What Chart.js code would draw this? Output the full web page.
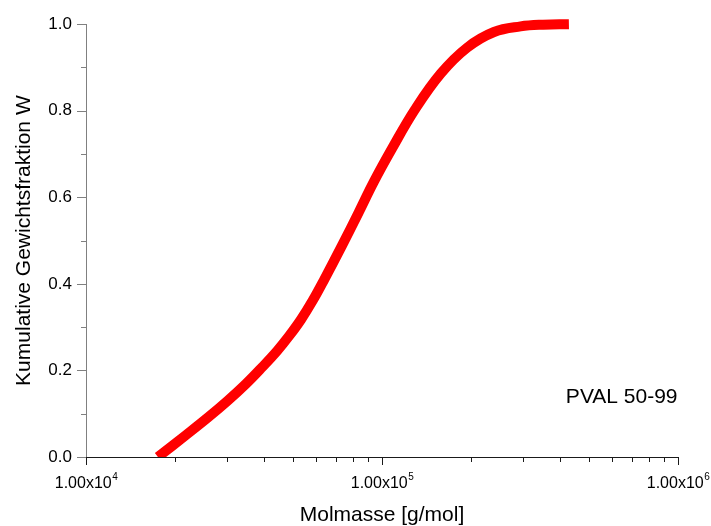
<!DOCTYPE html>
<html>
<head>
<meta charset="utf-8">
<script src="https://cdn.jsdelivr.net/npm/chart.js@4"></script>
<style>
  html, body { margin: 0; padding: 0; background: #fff; }
</style>
</head>
<body>
<canvas id="chart" width="711" height="526"></canvas>
<script>
// values
var molmasse = [1.75e4, 2.17e4, 2.59e4, 3.01e4, 3.47e4, 3.93e4, 4.42e4, 4.86e4, 5.33e4, 5.84e4, 6.38e4,
                7.33e4, 8.34e4, 9.37e4, 1.08e5, 1.29e5, 1.58e5, 1.94e5, 2.39e5, 2.94e5, 3.5e5, 4.28e5];
var wFraktion = [0.0, 0.050, 0.092, 0.130, 0.169, 0.207, 0.245, 0.280, 0.318, 0.362, 0.410,
                 0.489, 0.565, 0.635, 0.712, 0.802, 0.886, 0.946, 0.982, 0.995, 0.999, 1.0];

var xDecades = [1e4, 1e5, 1e6];
var xExponents = ['4', '5', '6'];
var yLabelTicks = [0, 0.2, 0.4, 0.6, 0.8, 1.0];

var sampleLabel = 'PVAL 50-99';
var sampleLabelAt = {x: 4.18e5, y: 0.125};

var family = "'Liberation Sans', Arial, sans-serif";

function isYMajor(v) {
    return yLabelTicks.some(t => Math.abs(t - v) < 1e-6);
}

var axisExtras = {
    id: 'axisExtras',
    afterDraw: chart => {
        let ctx = chart.ctx;
        let xs = chart.scales.x;
        let ys = chart.scales.y;
        ctx.save();

        // y ticks (outside, grey)
        ctx.strokeStyle = '#808080';
        ctx.lineWidth = 1;
        ys.ticks.forEach(t => {
            let py = Math.round(ys.getPixelForValue(t.value)) + 0.5;
            let len = isYMajor(t.value) ? 9 : 5;
            ctx.beginPath();
            ctx.moveTo(ys.right - len, py);
            ctx.lineTo(ys.right, py);
            ctx.stroke();
        });

        // x ticks (downwards, dark)
        ctx.strokeStyle = '#1a1a1a';
        xs.ticks.forEach(t => {
            let px = Math.round(xs.getPixelForValue(t.value)) + 0.5;
            let len = xDecades.includes(t.value) ? 8 : 5;
            ctx.beginPath();
            ctx.moveTo(px, xs.top);
            ctx.lineTo(px, xs.top + len);
            ctx.stroke();
        });

        // x labels with superscript exponent
        ctx.fillStyle = '#000';
        ctx.textBaseline = 'alphabetic';
        ctx.textAlign = 'left';
        xDecades.forEach((v, i) => {
            let px = xs.getPixelForValue(v);
            ctx.font = '16px ' + family;
            let base = '1.00x10';
            let wBase = ctx.measureText(base).width;
            ctx.font = '10px ' + family;
            let wExp = ctx.measureText(xExponents[i]).width;
            let x0 = px - (wBase + wExp) / 2;
            ctx.font = '16px ' + family;
            ctx.fillText(base, x0, xs.top + 31);
            ctx.font = '10px ' + family;
            ctx.fillText(xExponents[i], x0 + wBase + 0.5, xs.top + 23);
        });

        // sample label
        ctx.font = '21px ' + family;
        ctx.fillText(sampleLabel, xs.getPixelForValue(sampleLabelAt.x), ys.getPixelForValue(sampleLabelAt.y));
        ctx.restore();
    }
};

new Chart(document.getElementById('chart'), {
    type: 'line',
    data: {
        datasets: [{
            data: molmasse.map((m, i) => ({x: m, y: wFraktion[i]})),
            borderColor: '#ff0000',
            borderWidth: 10,
            borderCapStyle: 'butt',
            pointRadius: 0,
            fill: false,
            tension: 0.4,
            clip: {left: 0, top: 10, right: 10, bottom: 0}
        }]
    },
    plugins: [axisExtras],
    options: {
        responsive: false,
        animation: false,
        layout: {padding: {top: 20, right: 33, left: 0, bottom: 0}},
        plugins: {
            legend: {display: false},
            tooltip: {enabled: false}
        },
        scales: {
            x: {
                type: 'logarithmic',
                min: 1e4,
                max: 1e6,
                grid: {display: false, drawTicks: false},
                border: {display: true, color: '#1a1a1a', width: 1},
                ticks: {display: false},
                afterBuildTicks: scale => {
                    let ticks = [];
                    xDecades.slice(0, -1).forEach(d => {
                        for (let k = 1; k <= 9; k++) ticks.push({value: k * d});
                    });
                    ticks.push({value: xDecades[xDecades.length - 1]});
                    scale.ticks = ticks;
                },
                afterFit: scale => { scale.height = 69; },
                title: {
                    display: true,
                    text: 'Molmasse [g/mol]',
                    color: '#000',
                    font: {size: 21, family: family, lineHeight: 1},
                    padding: 0
                }
            },
            y: {
                min: 0,
                max: 1,
                grid: {display: false, drawTicks: false},
                border: {display: true, color: '#808080', width: 1},
                ticks: {
                    stepSize: 0.1,
                    padding: 14,
                    color: '#000',
                    font: {size: 17, family: family},
                    callback: v => isYMajor(v) ? v.toFixed(1) : ''
                },
                afterFit: scale => { scale.width = 86; },
                title: {
                    display: true,
                    text: 'Kumulative Gewichtsfraktion W',
                    color: '#000',
                    font: {size: 21, family: family, lineHeight: 1},
                    padding: {top: 14, bottom: 0}
                }
            }
        }
    }
});
</script>
</body>
</html>
